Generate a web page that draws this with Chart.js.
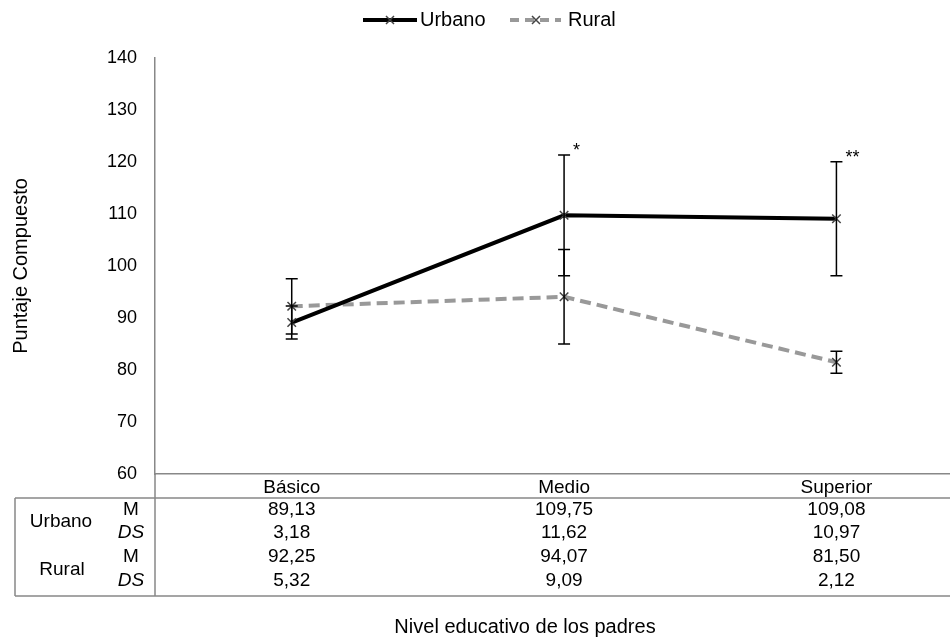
<!DOCTYPE html>
<html>
<head>
<meta charset="utf-8">
<script src="https://cdn.jsdelivr.net/npm/chart.js@4"></script>
<style>
  html, body { margin: 0; padding: 0; background: #fff; }
  #wrap { width: 950px; height: 641px; }
</style>
</head>
<body>
<div id="wrap"><canvas id="chart"></canvas></div>
<script>
// ── Datos ────────────────────────────────────────────────────────────
const categories = ["Básico", "Medio", "Superior"];
const urbanoM  = [89.13, 109.75, 109.08];
const urbanoDS = [3.18, 11.62, 10.97];
const ruralM   = [92.25, 94.07, 81.50];
const ruralDS  = [5.32, 9.09, 2.12];
const notes    = ["", "*", "**"];
const yTicks   = [60, 70, 80, 90, 100, 110, 120, 130, 140];

const FONT = "'Liberation Sans', Arial, sans-serif";
const fmt = v => v.toFixed(2).replace(".", ",");
const toPoints = arr => arr.map((v, i) => ({ x: i, y: v }));

// ── Barras de error + asteriscos ─────────────────────────────────────
const errorBars = {
	id: "errorBars",
	afterDatasetsDraw(chart) {
		const { ctx, scales: { x, y } } = chart;
		ctx.save();
		ctx.strokeStyle = "#000";
		ctx.lineWidth = 1.5;
		[[urbanoM, urbanoDS], [ruralM, ruralDS]].forEach(([m, ds]) => {
			m.forEach((v, i) => {
				const px = x.getPixelForValue(i);
				const top = y.getPixelForValue(v + ds[i]);
				const bot = y.getPixelForValue(v - ds[i]);
				ctx.beginPath();
				ctx.moveTo(px, top); ctx.lineTo(px, bot);
				ctx.moveTo(px - 6, top); ctx.lineTo(px + 6, top);
				ctx.moveTo(px - 6, bot); ctx.lineTo(px + 6, bot);
				ctx.stroke();
			});
		});
		// asteriscos sobre la barra urbana
		ctx.fillStyle = "#000";
		ctx.font = "18px " + FONT;
		ctx.textAlign = "left";
		ctx.textBaseline = "middle";
		notes.forEach((n, i) => {
			if (!n) return;
			const px = x.getPixelForValue(i);
			const top = y.getPixelForValue(urbanoM[i] + urbanoDS[i]);
			ctx.fillText(n, px + 9, top - 4);
		});
		ctx.restore();
	},
};

// ── Tabla inferior + leyenda + título X ──────────────────────────────
const tableAndLegend = {
	id: "tableAndLegend",
	afterDraw(chart) {
		const { ctx, scales: { x }, chartArea } = chart;
		const left = 15, right = chart.width, top = 498, bottom = 596;
		ctx.save();
		ctx.strokeStyle = "#888";
		ctx.lineWidth = 1.5;
		ctx.beginPath();
		ctx.moveTo(left, top); ctx.lineTo(right, top);
		ctx.moveTo(left, bottom); ctx.lineTo(right, bottom);
		ctx.moveTo(left, top); ctx.lineTo(left, bottom);
		ctx.moveTo(chartArea.left, chartArea.bottom); ctx.lineTo(chartArea.left, bottom);
		ctx.stroke();

		ctx.fillStyle = "#000";
		ctx.textAlign = "center";
		ctx.textBaseline = "middle";
		const rowY = [510, 533, 557, 581];
		ctx.font = "19px " + FONT;
		ctx.fillText("Urbano", 61, 522);
		ctx.fillText("Rural", 62, 570);
		["M", "DS", "M", "DS"].forEach((t, r) => {
			ctx.font = (t === "DS" ? "italic " : "") + "19px " + FONT;
			ctx.fillText(t, 131, rowY[r]);
		});
		ctx.font = "19px " + FONT;
		const rows = [urbanoM, urbanoDS, ruralM, ruralDS];
		rows.forEach((arr, r) => {
			arr.forEach((v, i) => ctx.fillText(fmt(v), x.getPixelForValue(i), rowY[r]));
		});

		// título del eje X, centrado sobre toda la tabla
		ctx.font = "20px " + FONT;
		ctx.fillText("Nivel educativo de los padres", 525, 627);

		// leyenda
		const ly = 20;
		ctx.lineWidth = 4;
		ctx.strokeStyle = "#000";
		ctx.beginPath(); ctx.moveTo(363, ly); ctx.lineTo(417, ly); ctx.stroke();
		ctx.strokeStyle = "#999";
		ctx.setLineDash([9, 6]);
		ctx.beginPath(); ctx.moveTo(510, ly); ctx.lineTo(561, ly); ctx.stroke();
		ctx.setLineDash([]);
		ctx.lineWidth = 1.5;
		ctx.strokeStyle = "#444";
		[390, 536].forEach(cx => {
			ctx.beginPath();
			ctx.moveTo(cx - 4, ly - 4); ctx.lineTo(cx + 4, ly + 4);
			ctx.moveTo(cx - 4, ly + 4); ctx.lineTo(cx + 4, ly - 4);
			ctx.stroke();
		});
		ctx.font = "20px " + FONT;
		ctx.textAlign = "left";
		ctx.fillText("Urbano", 420, ly);
		ctx.fillText("Rural", 568, ly);
		ctx.restore();
	},
};

// ── Chart ────────────────────────────────────────────────────────────
new Chart(document.getElementById("chart"), {
	type: "line",
	data: {
		datasets: [
			{
				label:            "Urbano",
				data:             toPoints(urbanoM),
				borderColor:      "#000",
				borderWidth:      4,
				pointStyle:       "crossRot",
				pointRadius:      6,
				pointBorderColor: "#444",
				pointBorderWidth: 1.5,
				tension:          0,
			},
			{
				label:            "Rural",
				data:             toPoints(ruralM),
				borderColor:      "#999",
				borderWidth:      4,
				borderDash:       [11, 6],
				pointStyle:       "crossRot",
				pointRadius:      6,
				pointBorderColor: "#444",
				pointBorderWidth: 1.5,
				tension:          0,
			},
		],
	},
	options: {
		responsive:          true,
		maintainAspectRatio: false,
		animation:           false,
		layout: { autoPadding: false, padding: { top: 58, right: 0, bottom: 0, left: 0 } },
		plugins: {
			legend:  { display: false },
			tooltip: { enabled: false },
		},
		scales: {
			x: {
				type: "linear",
				min: -0.502,
				max: 2.417,
				grid:   { display: false, drawTicks: false },
				border: { color: "#888", width: 1.5 },
				afterBuildTicks: s => { s.ticks = categories.map((c, i) => ({ value: i })); },
				afterFit: s => { s.height = 167; },
				ticks: {
					padding: 2,
					color: "#000",
					font: { family: FONT, size: 19 },
					callback: v => categories[v],
				},
			},
			y: {
				min: 60,
				max: 140,
				grid:   { display: false, drawTicks: false },
				border: { color: "#888", width: 1.5 },
				afterBuildTicks: s => { s.ticks = yTicks.map(v => ({ value: v })); },
				afterFit: s => { s.width = 155; },
				ticks: {
					padding: 18,
					color: "#000",
					font: { family: FONT, size: 18 },
				},
				title: {
					display: true,
					text: "Puntaje Compuesto",
					color: "#000",
					font: { family: FONT, size: 20 },
					padding: { top: 9, bottom: 0 },
				},
			},
		},
	},
	plugins: [errorBars, tableAndLegend],
});
</script>
</body>
</html>
